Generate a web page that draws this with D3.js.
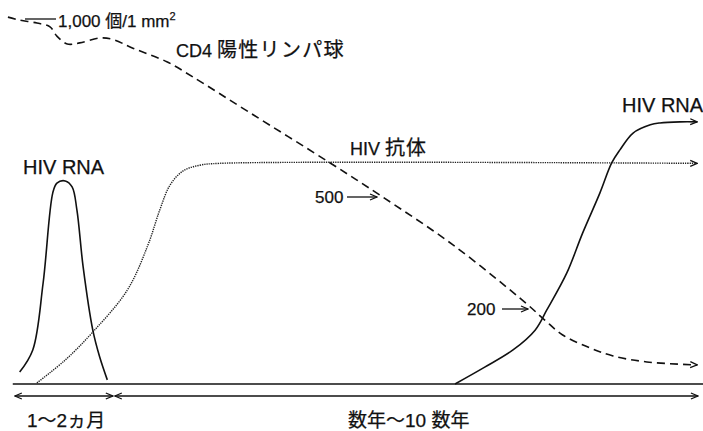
<!DOCTYPE html>
<html>
<head>
<meta charset="utf-8">
<script src="https://cdn.jsdelivr.net/npm/d3@7"></script>
<style>
  body { margin: 0; background: #fff; }
  text { font-family: "Liberation Sans", "Noto Sans CJK JP", sans-serif; fill: #111; stroke: #111; stroke-width: 0.25; }
  .cjk { font-family: "Noto Sans CJK JP", sans-serif; }
</style>
</head>
<body>
<svg id="chart"></svg>
<script>
// time (0-100, relative) vs level (0-100, relative)
var rnaEarly = [[1.4, 3.2], [3.3, 9.1], [4.8, 27.0], [6.2, 51.1], [6.8, 53.7], [8.0, 54.3],
  [9.0, 52.7], [9.7, 46.5], [10.6, 31.3], [12.0, 14.4], [13.0, 7.2], [14.1, 1.1]];

var rnaLate = [[64.5, 0], [68.8, 4.5], [72.9, 9.1], [76.1, 14.4], [77.8, 19.8], [80.7, 29.7],
  [83.0, 40.4], [85.5, 51.1], [87.2, 59.1], [88.4, 62.6], [90.3, 67.1], [92.8, 69.3],
  [94.2, 69.8], [97.1, 70.1], [99.6, 70.1]];

var antibody = [[3.9, 0.3], [8.0, 6.4], [12.0, 13.9], [17.0, 25.1], [20.0, 37.2], [21.7, 46.5],
  [23.2, 53.2], [25.1, 57.0], [27.5, 58.5], [30.4, 59], [99.6, 59]];

var cd4 = [[-0.3, 98.1], [1.4, 97.3], [3.9, 96.5], [5.8, 95.5], [6.8, 93.0], [8.3, 90.9],
  [10.1, 91.2], [13.0, 92.5], [14.8, 92.2], [17.8, 89.8], [22.8, 86.1], [26.5, 82.1],
  [34.8, 72.5], [46.4, 59.1], [53.6, 50.5], [64.2, 37.2], [74.9, 21.4], [77.5, 17.1],
  [80.1, 13.1], [84.1, 9.6], [87.4, 7.5], [92.3, 5.9], [99.6, 5.1]];

var periodEdges = [0.7, 14.9, 99.7];
var periodLabels = ["1〜2ヵ月", "数年〜10 数年"];

var width = 703, height = 431;

var x = d3.scaleLinear().domain([0, 100]).range([10, 700]);
var y = d3.scaleLinear().domain([0, 100]).range([384, 10]);

var svg = d3.select("#chart")
  .attr("width", width)
  .attr("height", height);

var defs = svg.append("defs");
defs.append("marker")
  .attr("id", "head")
  .attr("viewBox", "-1 -4 9 8")
  .attr("refX", 7).attr("refY", 0)
  .attr("markerWidth", 9).attr("markerHeight", 8)
  .attr("markerUnits", "userSpaceOnUse")
  .attr("orient", "auto-start-reverse")
  .append("path")
  .attr("d", "M0,-3L7,0L0,3")
  .attr("fill", "none")
  .attr("stroke", "#111")
  .attr("stroke-width", 1.3);

var line = d3.line()
  .x(d => x(d[0]))
  .y(d => y(d[1]))
  .curve(d3.curveCatmullRom.alpha(0.5));

// baseline
svg.append("line")
  .attr("x1", x(0.4)).attr("x2", width)
  .attr("y1", y(0)).attr("y2", y(0))
  .attr("stroke", "#111").attr("stroke-width", 1.6);

svg.append("path").datum(antibody)
  .attr("d", line)
  .attr("fill", "none").attr("stroke", "#222")
  .attr("stroke-width", 1.4).attr("stroke-dasharray", "1.3,1")
  .attr("marker-end", "url(#head)");

svg.append("path").datum(rnaEarly)
  .attr("d", line)
  .attr("fill", "none").attr("stroke", "#111").attr("stroke-width", 1.6);

svg.append("path").datum(rnaLate)
  .attr("d", line)
  .attr("fill", "none").attr("stroke", "#111").attr("stroke-width", 1.6)
  .attr("marker-end", "url(#head)");

svg.append("path").datum(cd4)
  .attr("d", line)
  .attr("fill", "none").attr("stroke", "#111")
  .attr("stroke-width", 1.6).attr("stroke-dasharray", "8,5")
  .attr("marker-end", "url(#head)");

// period arrows under the baseline
var yArrow = 396;
svg.selectAll(".period")
  .data(d3.pairs(periodEdges))
  .enter()
  .append("line")
  .classed("period", true)
  .attr("x1", (d, i) => x(d[0]) + (i ? 2 : 0))
  .attr("x2", d => x(d[1]))
  .attr("y1", yArrow).attr("y2", yArrow)
  .attr("stroke", "#111").attr("stroke-width", 1.3)
  .attr("marker-start", "url(#head)")
  .attr("marker-end", "url(#head)");

svg.selectAll(".period-label")
  .data(periodLabels)
  .enter()
  .append("text")
  .classed("period-label", true)
  .attr("x", (d, i) => i ? 348 : 27)
  .attr("y", 427)
  .attr("font-size", 19)
  .text(d => d);

// labels
function label(txt, px, py, size) {
  return svg.append("text").attr("x", px).attr("y", py)
    .attr("font-size", size).text(txt);
}

label("HIV RNA", 23, 174, 20);
label("HIV RNA", 622, 112, 20);

var ab = label("HIV ", 350, 155, 18);
ab.append("tspan").attr("font-size", 20).attr("letter-spacing", 1).text("抗体");

var cl = label("CD4 ", 176, 57, 18);
cl.append("tspan").attr("font-size", 20).attr("letter-spacing", 1.3).text("陽性リンパ球");

var k = svg.append("text").attr("x", 58).attr("y", 27).attr("font-size", 17);
k.append("tspan").text("1,000 個/1 mm");
k.append("tspan").attr("font-size", 11).attr("dy", -7).text("2");

svg.append("line")
  .attr("x1", 25).attr("x2", 56).attr("y1", 19).attr("y2", 19)
  .attr("stroke", "#111").attr("stroke-width", 1.3);

// CD4 count pointers
var marks = [{ v: "500", tx: 315, ty: 203, x1: 347, x2: 377, ly: 197 },
             { v: "200", tx: 467, ty: 315, x1: 502, x2: 528, ly: 309 }];

marks.forEach(m => {
  label(m.v, m.tx, m.ty, 17);
  svg.append("line")
    .attr("x1", m.x1).attr("x2", m.x2).attr("y1", m.ly).attr("y2", m.ly)
    .attr("stroke", "#111").attr("stroke-width", 1.3)
    .attr("marker-end", "url(#head)");
});
</script>
</body>
</html>
